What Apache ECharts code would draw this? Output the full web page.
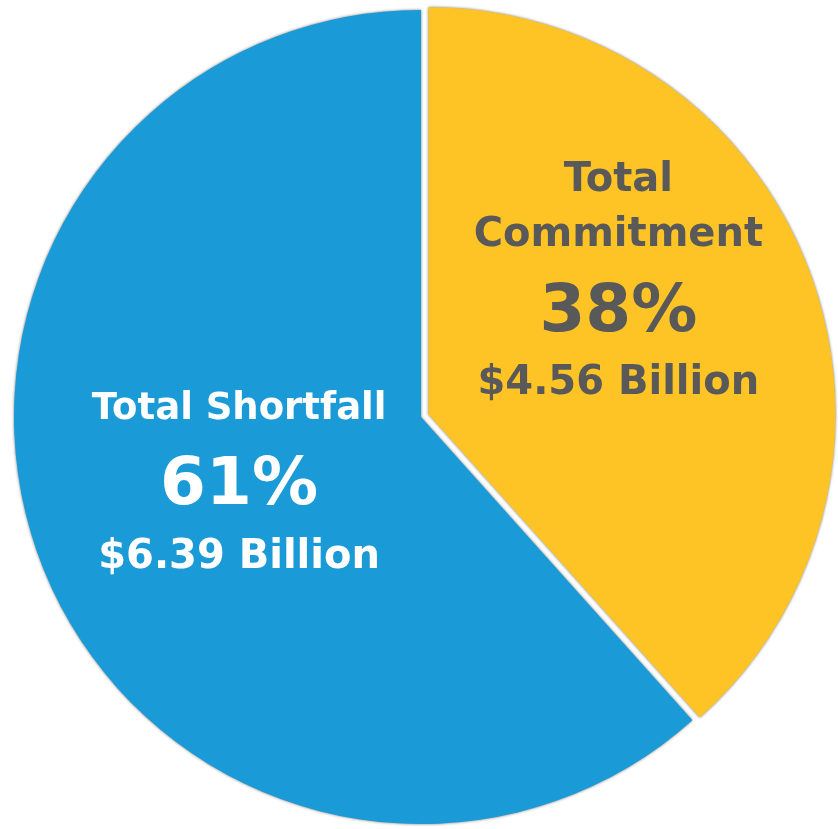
<!DOCTYPE html>
<html>
<head>
<meta charset="utf-8">
<script src="https://cdn.jsdelivr.net/npm/echarts@6/dist/echarts.min.js"></script>
<style>
html,body{margin:0;padding:0;background:#fff;}
#chart{width:838px;height:829px;}
</style>
</head>
<body>
<div id="chart"></div>
<script>
const categories = ['Total Commitment', 'Total Shortfall'];
const nameLines = ['Total\nCommitment', 'Total Shortfall'];
const percents = [38, 61];
const amounts = ['$4.56 Billion', '$6.39 Billion'];
const sliceColors = ['#FEC325', '#1A9BD7'];
const textColors = ['#595959', '#FFFFFF'];
const exploded = [true, false];
const nameSizes = [40, 37];
const labelShift = [[-3, -62], [11, -11]];

const chart = echarts.init(document.getElementById('chart'), null, {renderer: 'canvas'});

const data = categories.map((c, i) => ({
  name: c,
  value: percents[i],
  selected: exploded[i],
  itemStyle: {color: sliceColors[i]},
  select: {itemStyle: {color: sliceColors[i]}},
  label: {
    color: textColors[i],
    formatter: () => nameLines[i].split('\n').map(s => '{n|' + s + '}').join('\n') +
      '\n{p|' + percents[i] + '%}\n{v|' + amounts[i] + '}',
    rich: {
      n: {fontFamily: 'DejaVu Sans', fontWeight: 'bold', fontSize: nameSizes[i], lineHeight: 55, color: textColors[i]},
      p: {fontFamily: 'DejaVu Sans', fontWeight: 'bold', fontSize: 66, lineHeight: 100, color: textColors[i]},
      v: {fontFamily: 'DejaVu Sans', fontWeight: 'bold', fontSize: 40, lineHeight: 40, color: textColors[i]}
    }
  }
}));

chart.setOption({
  animation: false,
  series: [{
    type: 'pie',
    center: [421, 417],
    radius: [0, 407],
    startAngle: 90,
    clockwise: true,
    selectedMode: 'single',
    selectedOffset: 8,
    itemStyle: {
      borderWidth: 0,
      shadowColor: 'rgba(0,0,0,0.55)',
      shadowBlur: 3
    },
    emphasis: {disabled: true},
    label: {show: true, position: 'inside', align: 'center'},
    labelLine: {show: false},
    labelLayout: function (params) {
      const s = labelShift[params.dataIndex];
      return {dx: s[0], dy: s[1]};
    },
    data: data
  }]
});
</script>
</body>
</html>
